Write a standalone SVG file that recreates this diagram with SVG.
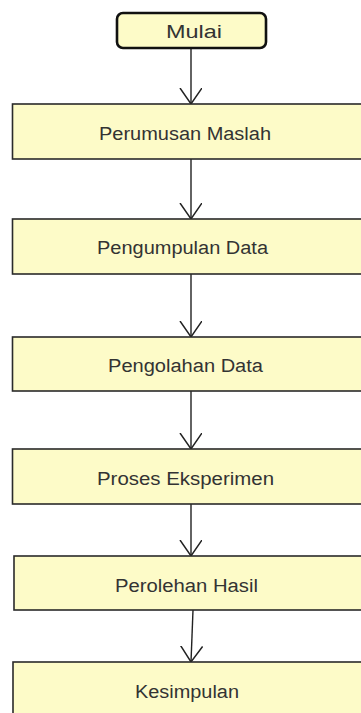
<svg xmlns="http://www.w3.org/2000/svg" width="361" height="713" viewBox="0 0 361 713">
  <style>
    .box { fill: #fdfbc8; stroke: #2a2a2a; stroke-width: 1.6; }
    .start { fill: #fdfbc8; stroke: #111; stroke-width: 2.6; }
    .lbl { font-family: "Liberation Sans", Arial, sans-serif; font-size: 18px; fill: #333333; text-anchor: start; }
    .link { fill: none; stroke: #222; stroke-width: 1.4; marker-end: url(#arr); }
  </style>
  <defs>
    <marker id="arr" viewBox="0 0 24 24" markerWidth="24" markerHeight="24" refX="16" refY="11" orient="auto" markerUnits="userSpaceOnUse">
      <path d="M0,0 L16,11 L0,22" fill="none" stroke="#222" stroke-width="1.5"/>
    </marker>
  </defs>
  <rect width="361" height="713" fill="#ffffff"/>

  <g id="connectors">
    <path class="link" d="M191,48 L191,104"/>
    <path class="link" d="M191,159 L191,219"/>
    <path class="link" d="M191,274 L191,337"/>
    <path class="link" d="M191,391 L191,449"/>
    <path class="link" d="M191,504 L191,556"/>
    <path class="link" d="M193,610 L191,662"/>
  </g>

  <g id="mulai">
    <rect class="start" x="117" y="13" width="149" height="35" rx="6"/>
    <text class="lbl" x="166" y="37.5" textLength="56" lengthAdjust="spacingAndGlyphs">Mulai</text>
  </g>
  <g id="perumusan">
    <rect class="box" x="12.5" y="104" width="360" height="55"/>
    <text class="lbl" x="99" y="139.5" textLength="172" lengthAdjust="spacingAndGlyphs">Perumusan Maslah</text>
  </g>
  <g id="pengumpulan">
    <rect class="box" x="12.5" y="219" width="360" height="55"/>
    <text class="lbl" x="97" y="253.5" textLength="171" lengthAdjust="spacingAndGlyphs">Pengumpulan Data</text>
  </g>
  <g id="pengolahan">
    <rect class="box" x="12.5" y="337" width="360" height="54"/>
    <text class="lbl" x="108" y="371.5" textLength="155" lengthAdjust="spacingAndGlyphs">Pengolahan Data</text>
  </g>
  <g id="proses">
    <rect class="box" x="12.5" y="449" width="360" height="55"/>
    <text class="lbl" x="97" y="484.5" textLength="177" lengthAdjust="spacingAndGlyphs">Proses Eksperimen</text>
  </g>
  <g id="perolehan">
    <rect class="box" x="14" y="556" width="360" height="54"/>
    <text class="lbl" x="115" y="591.5" textLength="143" lengthAdjust="spacingAndGlyphs">Perolehan Hasil</text>
  </g>
  <g id="kesimpulan">
    <rect class="box" x="13" y="662" width="360" height="60"/>
    <text class="lbl" x="135" y="697.5" textLength="104" lengthAdjust="spacingAndGlyphs">Kesimpulan</text>
  </g>
</svg>
